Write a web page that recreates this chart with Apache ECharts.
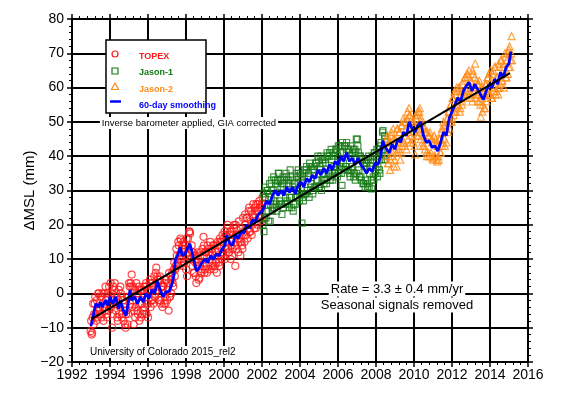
<!DOCTYPE html>
<html>
<head>
<meta charset="utf-8">
<title>Global mean sea level</title>
<script src="https://cdn.jsdelivr.net/npm/echarts@6/dist/echarts.min.js"></script>
<style>
  html, body { margin: 0; padding: 0; background: #fff; }
  #chart { width: 570px; height: 399px; }
</style>
</head>
<body>
<div id="chart"></div>
<script>
const fontFamily = '"Liberation Sans", Arial, Helvetica, sans-serif'

// altimeter cycles, ~10 days apart; each mission is kept as two interleaved runs
const cycleStep = 0.054

const topexStart = 1992.98
const topexValues = [
  -11, -12, -7, -9, -3, -6, -2, -7, 0, -5,
  -1, -6, -4, 0, -5, -2, -7, -1, 2, -3,
  -4, -10, 2, 1, -3, 0, -7, -2, -6, 2,
  -1, -6, -8, -3, -10, -5, -9, -1, 2, 3,
  5.5, -2, -9, 1, -4, 0, -6, 2, -3, -7,
  1, -5, 2, -6, 3, -3, -7, 1, 4, -2,
  3, -3, 5, -1, 7.5, 5, 0, 4, -2, 2,
  -4, 2, 3, -3, 4, 1, -5, -1, 5, 4,
  3, 7, 5, 8, 11, 8, 14, 10, 15.5, 13,
  8, 13, 14, 7, 5, 16, 18, 17.5, 10, 12,
  12, 6, 9, 3, 8, 10, 4.5, 11, 6, 13,
  16.5, 6, 12, 8, 14, 12, 7, 11, 13, 8,
  14, 8, 12, 6, 15, 9, 16, 11, 15, 12,
  16, 10, 17, 19, 13, 12, 18, 14, 11, 17,
  20, 8, 19, 17, 12, 16, 11, 15, 13, 18,
  15, 20, 22, 16, 24, 18, 21, 17, 23, 22,
  25, 19, 24, 26, 22, 25, 21, 26
]
const topexStart2 = 1993.007
const topexValues2 = [
  -8, -11.5, -3, -6, -1, -8, -5, 0, -6, -1,
  -7, 0, -8, -4, 2, -6, 0, -5, -3, 3,
  0, -6, -2, 3, -5, -1, -8, 1, -4, 0,
  -7, -2, -4, -9, -6, -1, -6, 3, -3, 2,
  -4, 2, -5, -7, 3, -5, 0, -8, 1, -3,
  -6, 0, -4, 2, -6, 1, -3, 3, -4, 2,
  -2, 2, -1, 6, 1, 4, -2, 5, -3, 1,
  2, -3, -1, 4, -2, 3, 6, -1, 0, 6,
  2, 9, 7, 13, 9, 15, 11, 16, 10, 14,
  15, 9, 13, 16, 11, 12, 18, 10, 14, 8,
  6, 11, 5, 9, 12, 4, 8, 12, 7, 11,
  14, 7, 12, 6, 13, 9, 15, 8, 12, 14,
  7, 13, 9, 14, 10, 8, 15, 10, 17, 11,
  18, 13, 15, 20, 12, 17, 10, 18, 13, 19,
  14, 20, 13, 16, 21, 15, 19, 14, 22, 17,
  23, 17, 22, 19, 25, 18, 24, 20, 26, 19,
  23, 26, 20, 24, 27, 22, 25, 28
]

const jason1Start = 2002.05
const jason1Values = [
  20, 18, 28, 22, 30, 24, 29, 21, 28, 24,
  30, 25, 33, 26, 31, 35, 27, 33, 26, 32,
  25, 33, 28, 34, 26, 32, 28, 34, 25, 31,
  26, 32, 28, 35, 30, 34, 29, 33, 20.5, 28,
  35, 29, 36, 30, 34, 28, 37, 32, 36, 30,
  37, 31, 38, 33, 39, 31, 36, 30, 39, 35,
  33, 38, 32, 40, 35, 41, 34, 39, 33, 41,
  36, 42, 37, 40, 35, 43, 38, 31.5, 41, 36,
  43, 37, 42, 36, 41, 34, 40, 37, 42, 35,
  33, 45, 45, 41, 34, 40, 33, 39, 32, 38,
  33, 38, 31, 40, 35, 39, 30.5, 38, 33, 41,
  36, 42, 37, 41, 35, 44, 41, 47.5, 39, 45, 40
]
const jason1Start2 = 2002.077
const jason1Values2 = [
  29, 22, 31, 24, 30, 21, 32, 26, 33, 25,
  34, 27, 32, 24, 33, 35, 26, 31, 23, 34,
  32, 26, 35, 27, 33, 25, 36, 28, 33, 24,
  32, 26, 34, 28, 36, 27, 35, 29, 34, 27,
  36, 29, 37, 30, 35, 38, 31, 37, 29, 36,
  31, 38, 33, 40, 31, 37, 40, 33, 38, 32,
  39, 33, 41, 35, 40, 33, 42, 35, 40, 37,
  35, 42, 34, 43, 37, 41, 35, 44, 38, 43,
  37, 44, 36, 42, 35, 43, 36, 41, 34, 42,
  41, 35, 43, 36, 40, 34, 39, 32, 37, 31,
  38, 32, 39, 31, 37, 33, 40, 34, 41, 35,
  40, 34, 42, 36, 43, 39, 47, 42, 46, 39, 44
]

const jason2Start = 2008.55
const jason2Values = [
  40, 46, 38, 44, 39, 47, 41, 45, 39, 44,
  37, 48, 42, 47, 41, 49, 44, 50, 43, 48,
  51, 45, 54, 52, 46, 50, 44, 49, 40.5, 51,
  52, 46, 53, 48, 51, 44, 49, 43, 47, 41,
  47, 41, 46, 40, 45, 39.5, 44, 40, 45, 39,
  43, 39, 45, 41, 48, 44, 49, 43, 48, 51,
  47, 53, 50, 55, 51, 57, 53, 58, 54, 59,
  55, 60, 54, 59, 56, 62, 58, 63, 59, 64,
  63, 58, 62, 57, 65, 59, 63, 57, 62, 58,
  61, 56, 51.5, 58, 55, 60, 54, 61, 57, 63,
  64, 58, 62, 57, 65, 60, 66, 59, 63, 58,
  66, 61, 68, 62, 67, 64, 69, 63, 70, 66, 72, 68, 75
]
const jason2Start2 = 2008.577
const jason2Values2 = [
  45, 38, 44, 36, 46, 40, 48, 37, 45, 41,
  48, 41, 47, 39, 49, 43, 51, 44, 50, 42,
  53, 47, 52, 44, 51, 45, 50, 43, 52, 46,
  53, 47, 54, 45, 50, 43, 48, 42, 47, 40,
  46, 40, 47, 41, 44, 39, 46, 40, 44, 38.5,
  40, 45, 41, 47, 43, 50, 45, 49, 44, 51,
  53, 48, 55, 50, 57, 52, 59, 53, 60, 55,
  60, 53, 58, 55, 61, 57, 63, 58, 64, 60,
  65, 59, 62, 56, 64, 60, 67, 58, 61, 56,
  62, 55, 60, 53, 59, 54, 61, 56, 63, 58,
  58, 65, 57, 64, 59, 66, 58, 63, 60, 67,
  60, 68, 62, 66, 60, 70, 63, 68, 64, 71, 66, 70, 68
]

// 60-day smoothing
const smoothYears = [
  1993.00, 1993.10, 1993.25, 1993.40, 1993.50, 1993.60, 1993.75, 1993.90,
  1994.00, 1994.15, 1994.30, 1994.45, 1994.55, 1994.70, 1994.85, 1994.95,
  1995.05, 1995.15, 1995.30, 1995.45, 1995.60, 1995.75, 1995.90,
  1996.05, 1996.20, 1996.35, 1996.50, 1996.65, 1996.80, 1996.95,
  1997.10, 1997.25, 1997.35, 1997.45, 1997.55, 1997.70, 1997.80, 1997.95,
  1998.05, 1998.20, 1998.30, 1998.40, 1998.55, 1998.70, 1998.85,
  1999.00, 1999.15, 1999.30, 1999.45, 1999.60, 1999.75, 1999.90,
  2000.05, 2000.15, 2000.30, 2000.45, 2000.60, 2000.75, 2000.90,
  2001.05, 2001.20, 2001.35, 2001.50, 2001.65, 2001.80,
  2002.00, 2002.10, 2002.25, 2002.40, 2002.55, 2002.70, 2002.85,
  2003.00, 2003.15, 2003.30, 2003.45, 2003.60, 2003.75, 2003.90,
  2004.05, 2004.20, 2004.35, 2004.50, 2004.65, 2004.80, 2004.95,
  2005.10, 2005.25, 2005.40, 2005.55, 2005.70, 2005.85,
  2006.00, 2006.15, 2006.30, 2006.45, 2006.60, 2006.75, 2006.90,
  2007.05, 2007.20, 2007.35, 2007.50, 2007.65, 2007.80, 2007.95,
  2008.10, 2008.25, 2008.35, 2008.50, 2008.70, 2008.85,
  2009.00, 2009.15, 2009.30, 2009.45, 2009.60, 2009.75, 2009.90,
  2010.05, 2010.20, 2010.35, 2010.50, 2010.65, 2010.80, 2010.95,
  2011.10, 2011.25, 2011.40, 2011.55, 2011.70, 2011.85,
  2012.00, 2012.15, 2012.30, 2012.45, 2012.60, 2012.75, 2012.90,
  2013.05, 2013.20, 2013.35, 2013.50, 2013.65, 2013.80, 2013.95,
  2014.10, 2014.25, 2014.40, 2014.55, 2014.70, 2014.85,
  2015.00, 2015.10
]
const smoothValues = [
  -9.5, -7, -3, -4, -2.5, -4, -2, -3.5,
  -1, -3, -1, -4.5, -2, -5, -6.5, -3,
  1, -2, -1, -3, -1, -2.5, 0,
  -1.5, 1, 0, 3.5, 1, -1, 0.5,
  0.5, 2.5, 5, 10, 11, 13.5, 11, 11.5,
  12, 14.5, 12.5, 10, 6.5, 7.5, 9,
  10, 9, 11, 10, 11.5, 11, 13,
  14, 17, 14.5, 14, 17, 16, 18,
  17.5, 20, 19, 21.5, 21, 23,
  24, 25, 27, 26, 28.5, 30, 28.5,
  30, 28.5, 31, 29.5, 31, 29, 31.5,
  32.5, 31, 33.5, 32.5, 34.5, 33.5, 36,
  34.5, 36.5, 35, 37.5, 36, 38.5,
  37.5, 40, 38.5, 41, 38.5, 39.5, 37.5,
  39.5, 37.5, 36.5, 35, 36.5, 35.5, 38,
  37.5, 40, 44.5, 42.5, 41, 43.5,
  42, 45, 44, 47, 46, 50, 48,
  47, 49, 50, 46, 44, 44.5, 42.5,
  43, 41.5, 44, 47, 46, 51,
  53, 55, 57, 56, 59, 60.5, 61.5,
  59, 61, 59.5, 58, 56.5, 59, 61,
  60, 62.5, 61, 64.5, 63, 66,
  67, 70.5
]

// linear fit, 3.3 mm/yr
const trendYears = [1993.04, 2015.05]
const trendValues = [-7.4, 64.2]

function cyclePairs (start, values) {
  return values.map((v, i) => [+(start + i * cycleStep).toFixed(3), v])
}
function zipPairs (xs, ys) {
  return xs.map((x, i) => [x, ys[i]])
}

const frameLine = { show: true, onZero: false, lineStyle: { color: '#000', width: 2 } }
const majorTick = { show: true, length: 5, lineStyle: { color: '#000', width: 1.5 } }
const minorTick = { show: true, splitNumber: 5, length: 3, lineStyle: { color: '#000', width: 1 } }
const gridLine = { show: true, lineStyle: { color: '#000', width: 2 } }

const chart = echarts.init(document.getElementById('chart'))
chart.setOption({
  animation: false,
  backgroundColor: '#fff',
  grid: { left: 72, right: 42, top: 19, bottom: 37 },
  xAxis: [{
    type: 'value',
    min: 1992,
    max: 2016,
    interval: 2,
    axisLine: frameLine,
    axisTick: majorTick,
    minorTick: minorTick,
    splitLine: gridLine,
    axisLabel: {
      color: '#000', fontSize: 14, fontFamily, margin: 6,
      formatter: v => String(v)
    }
  }, {
    type: 'value',
    position: 'top',
    min: 1992,
    max: 2016,
    interval: 2,
    axisLine: frameLine,
    axisTick: majorTick,
    minorTick: minorTick,
    splitLine: { show: false },
    axisLabel: { show: false }
  }],
  yAxis: [{
    type: 'value',
    min: -20,
    max: 80,
    interval: 10,
    name: 'ΔMSL (mm)',
    nameLocation: 'middle',
    nameGap: 35,
    nameMoveOverlap: false,
    nameTextStyle: { color: '#000', fontSize: 15, fontFamily },
    axisLine: frameLine,
    axisTick: majorTick,
    minorTick: minorTick,
    splitLine: gridLine,
    axisLabel: {
      color: '#000', fontSize: 14, fontFamily, margin: 8,
      formatter: v => String(v).replace('-', '\u2212')
    }
  }, {
    type: 'value',
    position: 'right',
    min: -20,
    max: 80,
    interval: 10,
    axisLine: frameLine,
    axisTick: majorTick,
    minorTick: minorTick,
    splitLine: { show: false },
    axisLabel: { show: false }
  }],
  series: [
    {
      name: 'TOPEX',
      type: 'scatter',
      symbol: 'circle',
      symbolSize: 7,
      itemStyle: { color: 'rgba(0,0,0,0)', borderColor: '#ff1a1a', borderWidth: 1.2 },
      data: cyclePairs(topexStart, topexValues).concat(cyclePairs(topexStart2, topexValues2)),
      z: 3
    },
    {
      name: 'Jason-1',
      type: 'scatter',
      symbol: 'rect',
      symbolSize: 6,
      itemStyle: { color: 'rgba(0,0,0,0)', borderColor: '#167a16', borderWidth: 1.2 },
      data: cyclePairs(jason1Start, jason1Values).concat(cyclePairs(jason1Start2, jason1Values2)),
      z: 3
    },
    {
      name: 'Jason-2',
      type: 'scatter',
      symbol: 'triangle',
      symbolSize: 7,
      itemStyle: { color: 'rgba(0,0,0,0)', borderColor: '#ff8c1a', borderWidth: 1.2 },
      data: cyclePairs(jason2Start, jason2Values).concat(cyclePairs(jason2Start2, jason2Values2)),
      z: 3
    },
    {
      name: '60-day smoothing',
      type: 'line',
      showSymbol: false,
      lineStyle: { color: '#0000ff', width: 2.8 },
      data: zipPairs(smoothYears, smoothValues),
      z: 4
    },
    {
      name: 'trend',
      type: 'line',
      showSymbol: false,
      lineStyle: { color: '#000', width: 2 },
      data: zipPairs(trendYears, trendValues),
      z: 5
    }
  ],
  graphic: [
    // legend box
    { type: 'rect', z: 100, shape: { x: 106, y: 40, width: 100, height: 73 },
      style: { fill: '#fff', stroke: '#000', lineWidth: 1.5 } },
    { type: 'circle', z: 101, shape: { cx: 115, cy: 54, r: 3 },
      style: { fill: 'none', stroke: '#ff1a1a', lineWidth: 1.2 } },
    { type: 'rect', z: 101, shape: { x: 112, y: 68, width: 6, height: 6 },
      style: { fill: 'none', stroke: '#167a16', lineWidth: 1.2 } },
    { type: 'polygon', z: 101, shape: { points: [[115, 83], [111.5, 89.5], [118.5, 89.5]] },
      style: { fill: 'none', stroke: '#ff8c1a', lineWidth: 1.2 } },
    { type: 'line', z: 101, shape: { x1: 110, y1: 101.5, x2: 121, y2: 101.5 },
      style: { stroke: '#0000ff', lineWidth: 2.5 } },
    { type: 'text', z: 101, style: { x: 139, y: 57, text: 'TOPEX', fill: '#ff1a1a', font: 'bold 9px ' + fontFamily, verticalAlign: 'middle' } },
    { type: 'text', z: 101, style: { x: 139, y: 73, text: 'Jason-1', fill: '#167a16', font: 'bold 9px ' + fontFamily, verticalAlign: 'middle' } },
    { type: 'text', z: 101, style: { x: 139, y: 89.5, text: 'Jason-2', fill: '#ff8c1a', font: 'bold 9px ' + fontFamily, verticalAlign: 'middle' } },
    { type: 'text', z: 101, style: { x: 139, y: 106, text: '60-day smoothing', fill: '#0000ff', font: 'bold 9px ' + fontFamily, verticalAlign: 'middle' } },
    // notes
    { type: 'text', z: 100, style: { x: 189, y: 123, text: 'Inverse barometer applied, GIA corrected', fill: '#000',
      font: '9.5px ' + fontFamily, align: 'center', verticalAlign: 'middle', backgroundColor: '#fff', padding: [1, 2] } },
    { type: 'text', z: 100, style: { x: 397, y: 289, text: 'Rate = 3.3 ± 0.4 mm/yr', fill: '#000',
      font: '13px ' + fontFamily, align: 'center', verticalAlign: 'middle', backgroundColor: '#fff', padding: [1, 2] } },
    { type: 'text', z: 100, style: { x: 397, y: 305, text: 'Seasonal signals removed', fill: '#000',
      font: '13px ' + fontFamily, align: 'center', verticalAlign: 'middle', backgroundColor: '#fff', padding: [1, 2] } },
    { type: 'text', z: 100, style: { x: 88, y: 352, text: 'University of Colorado 2015_rel2', fill: '#000',
      font: '10px ' + fontFamily, align: 'left', verticalAlign: 'middle', backgroundColor: '#fff', padding: [1, 2] } }
  ]
})
</script>
</body>
</html>
